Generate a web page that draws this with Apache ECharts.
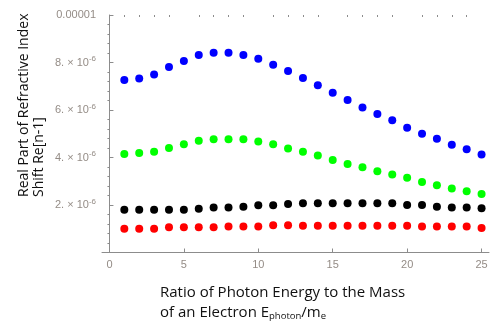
<!DOCTYPE html>
<html>
<head>
<meta charset="utf-8">
<script src="https://cdn.jsdelivr.net/npm/echarts@6/dist/echarts.min.js"></script>
<style>
  html, body { margin: 0; padding: 0; background: #fff; }
  #chart { width: 492px; height: 322px; }
</style>
</head>
<body>
<div id="chart"></div>
<script>
// photon energy / electron mass ratio
const ratios = [1, 2, 3, 4, 5, 6, 7, 8, 9, 10, 11, 12, 13, 14, 15, 16, 17, 18, 19, 20, 21, 22, 23, 24, 25];

// Re[n-1], in units of 1e-6
const blueSeries = [7.26, 7.33, 7.50, 7.81, 8.06, 8.32, 8.41, 8.41, 8.32, 8.16, 7.91, 7.64, 7.35, 7.04, 6.73, 6.42, 6.11, 5.83, 5.57, 5.25, 5.00, 4.79, 4.54, 4.35, 4.13];
const greenSeries = [4.15, 4.19, 4.24, 4.40, 4.56, 4.71, 4.77, 4.77, 4.77, 4.67, 4.56, 4.38, 4.24, 4.08, 3.89, 3.73, 3.59, 3.42, 3.28, 3.15, 2.97, 2.83, 2.70, 2.58, 2.46];
const blackSeries = [1.80, 1.80, 1.80, 1.80, 1.80, 1.84, 1.90, 1.90, 1.93, 1.99, 1.99, 2.04, 2.07, 2.07, 2.07, 2.07, 2.07, 2.07, 2.07, 2.00, 2.00, 1.93, 1.90, 1.90, 1.86];
const redSeries = [1.00, 1.00, 1.00, 1.06, 1.06, 1.06, 1.06, 1.10, 1.10, 1.10, 1.15, 1.15, 1.13, 1.13, 1.13, 1.13, 1.13, 1.13, 1.13, 1.13, 1.09, 1.09, 1.09, 1.09, 1.03];

const xMajorTicks = [0, 5, 10, 15, 20, 25];
const xMinorTicks = [1, 2, 3, 4, 6, 7, 8, 9, 11, 12, 13, 14, 16, 17, 18, 19, 21, 22, 23, 24];
const yMajorTicks = [2e-6, 4e-6, 6e-6, 8e-6, 1e-5];
const yMinorTicks = [0.4e-6, 0.8e-6, 1.2e-6, 1.6e-6, 2.4e-6, 2.8e-6, 3.2e-6, 3.6e-6, 4.4e-6, 4.8e-6, 5.2e-6, 5.6e-6,
  6.4e-6, 6.8e-6, 7.2e-6, 7.6e-6, 8.4e-6, 8.8e-6, 9.2e-6, 9.6e-6];
const yTickLabels = ['{m|2. × 10}{s|-6}', '{m|4. × 10}{s|-6}', '{m|6. × 10}{s|-6}', '{m|8. × 10}{s|-6}', '{m|0.00001}'];

const colors = ['#0000ff', '#00ff00', '#000000', '#ff0000'];
const allSeries = [blueSeries, greenSeries, blackSeries, redSeries];

const axisGray = '#8c8c8c';
const labelGray = '#948c86';

const chart = echarts.init(document.getElementById('chart'));

const option = {
  animation: false,
  grid: { left: 102, top: 15, width: 387, height: 237.5, containLabel: false },
  xAxis: [
    {
      type: 'value', min: -0.5, max: 25.5,
      splitLine: { show: false },
      axisLine: { show: true, onZero: false, lineStyle: { color: axisGray, width: 1 } },
      axisTick: { show: true, inside: true, length: 4, customValues: xMajorTicks, lineStyle: { color: axisGray } },
      axisLabel: {
        customValues: xMajorTicks, margin: 7,
        color: labelGray, fontSize: 11, fontFamily: 'Liberation Sans'
      }
    },
    {
      type: 'value', min: -0.5, max: 25.5,
      splitLine: { show: false },
      axisLine: { show: false, onZero: false },
      axisTick: { show: true, inside: true, length: 2, customValues: xMinorTicks, lineStyle: { color: axisGray } },
      axisLabel: { show: false }
    }
  ],
  yAxis: [
    {
      type: 'value', min: 0, max: 1e-5,
      splitLine: { show: false },
      axisLine: { show: true, onZero: true, onZeroAxisIndex: 0, lineStyle: { color: axisGray, width: 1 } },
      axisTick: { show: true, inside: true, length: 4, customValues: yMajorTicks, lineStyle: { color: axisGray } },
      axisLabel: {
        customValues: yMajorTicks,
        margin: 6,
        formatter: function (v) {
          let best = 0;
          yMajorTicks.forEach(function (t, i) { if (Math.abs(t - v) < Math.abs(yMajorTicks[best] - v)) best = i; });
          return yTickLabels[best];
        },
        rich: {
          m: { color: labelGray, fontSize: 11, fontFamily: 'Liberation Sans' },
          s: { color: labelGray, fontSize: 8, fontFamily: 'Liberation Sans', verticalAlign: 'bottom', padding: [0, 0, 7, 0] }
        }
      }
    },
    {
      type: 'value', min: 0, max: 1e-5,
      splitLine: { show: false },
      axisLine: { show: false, onZero: true, onZeroAxisIndex: 0 },
      axisTick: { show: true, inside: true, length: 2, customValues: yMinorTicks, lineStyle: { color: axisGray } },
      axisLabel: { show: false }
    }
  ],
  series: allSeries.map(function (vals, i) {
    return {
      type: 'scatter',
      xAxisIndex: 0,
      yAxisIndex: 0,
      symbol: 'circle',
      symbolSize: 8,
      itemStyle: { color: colors[i], opacity: 1 },
      data: ratios.map(function (r, j) { return [r, vals[j] * 1e-6]; })
    };
  }),
  graphic: [
    {
      type: 'text',
      x: 17, y: 197,
      rotation: Math.PI / 2,
      style: {
        text: 'Real Part of Refractive Index\nShift Re[n-1]',
        textAlign: 'left', textVerticalAlign: 'top',
        fill: '#111', fontSize: 14, lineHeight: 15, fontFamily: 'Open Sans'
      }
    },
    {
      type: 'text',
      x: 160, y: 283,
      style: {
        text: '{t|Ratio of Photon Energy to the Mass}\n{t|of an Electron E}{b|photon}{t|/m}{b|e}',
        fill: '#111',
        rich: {
          t: { fontSize: 15, lineHeight: 20, fontFamily: 'Open Sans', fill: '#111' },
          b: { fontSize: 9.5, lineHeight: 10, fontFamily: 'Open Sans', fill: '#111', verticalAlign: 'bottom', padding: [0, 0, 2, 0] }
        }
      }
    }
  ]
};

chart.setOption(option);
</script>
</body>
</html>
